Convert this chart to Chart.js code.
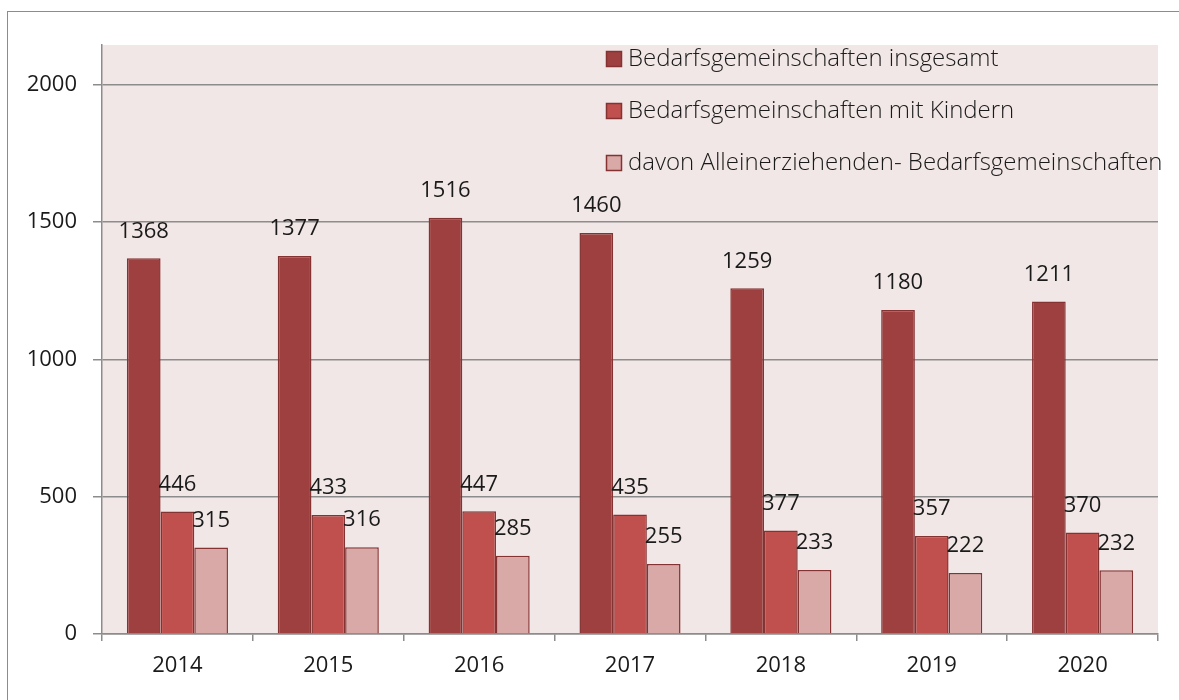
<!DOCTYPE html>
<html>
<head>
<meta charset="utf-8">
<script src="https://cdn.jsdelivr.net/npm/chart.js@4.4.1/dist/chart.umd.min.js"></script>
<style>
  html, body { margin: 0; padding: 0; background: #fff; }
  #wrap { position: relative; width: 1179px; height: 700px; }
  #frame { position: absolute; left: 7px; top: 11px; right: -5px; bottom: -5px; border: 1.5px solid #8c8c8c; }
  canvas { position: absolute; left: 0; top: 0; }
</style>
</head>
<body>
<div id="wrap">
  <div id="frame"></div>
  <canvas id="myChart" width="1179" height="700"></canvas>
</div>
<script>
const jahre = ["2014", "2015", "2016", "2017", "2018", "2019", "2020"];
const insgesamt = [1368, 1377, 1516, 1460, 1259, 1180, 1211];
const mitKindern = [446, 433, 447, 435, 377, 357, 370];
const alleinerziehend = [315, 316, 285, 255, 233, 222, 232];
const yTicks = [0, 500, 1000, 1500, 2000];

const schrift = "'Open Sans', 'Noto Sans', sans-serif";
const grau = "#8c8c8c";
const textFarbe = "#1a1a1a";

// Plot-Hintergrund
const plotBg = {
  id: "plotBg",
  beforeDraw(chart) {
    let a = chart.chartArea;
    let c = chart.ctx;
    c.save();
    c.fillStyle = "#f2e7e7";
    c.fillRect(a.left, a.top, a.right - a.left, a.bottom - a.top);
    c.restore();
  }
};

// Werte über den Balken
const werte = {
  id: "werte",
  afterDatasetsDraw(chart) {
    let c = chart.ctx;
    c.save();
    c.font = "400 22px " + schrift;
    c.fillStyle = textFarbe;
    c.textAlign = "center";
    c.textBaseline = "middle";
    chart.data.datasets.forEach((ds, i) => {
      chart.getDatasetMeta(i).data.forEach((bar, j) => {
        c.fillText(ds.data[j], bar.x, bar.y - 27);
      });
    });
    c.restore();
  }
};

// Legende oben rechts im Plot
const legende = {
  id: "legende",
  afterDraw(chart) {
    let c = chart.ctx;
    c.save();
    c.font = "300 24px " + schrift;
    c.textBaseline = "middle";
    chart.data.datasets.forEach((ds, i) => {
      let y = 59 + i * 52;
      c.fillStyle = ds.backgroundColor;
      c.fillRect(606, y - 8, 16, 16);
      c.strokeStyle = ds.borderColor;
      c.lineWidth = 1.5;
      c.strokeRect(606.5, y - 7.5, 15, 15);
      c.fillStyle = textFarbe;
      c.fillText(ds.label, 628, y);
    });
    c.restore();
  }
};

const ctx = document.getElementById("myChart");
const myChart = new Chart(ctx, {
  type: "bar",
  data: {
    labels: jahre,
    datasets: [
      {
        label: "Bedarfsgemeinschaften insgesamt",
        data: insgesamt,
        backgroundColor: "#9e4040",
        borderColor: "#853232",
        borderWidth: 1.5,
      },
      {
        label: "Bedarfsgemeinschaften mit Kindern",
        data: mitKindern,
        backgroundColor: "#c0504d",
        borderColor: "#853232",
        borderWidth: 1.5,
      },
      {
        label: "davon Alleinerziehenden- Bedarfsgemeinschaften",
        data: alleinerziehend,
        backgroundColor: "#d9a9a8",
        borderColor: "#853232",
        borderWidth: 1.5,
      },
    ],
  },
  options: {
    responsive: false,
    animation: false,
    layout: { padding: { top: 45, right: 21, left: 0, bottom: 0 } },
    plugins: {
      legend: { display: false },
      tooltip: { enabled: false },
    },
    datasets: {
      bar: { categoryPercentage: 0.67, barPercentage: 1.0 },
    },
    scales: {
      x: {
        grid: {
          offset: true,
          drawOnChartArea: false,
          color: grau,
          lineWidth: 1.5,
          tickLength: 7,
        },
        border: { color: grau, width: 1.5 },
        ticks: {
          color: textFarbe,
          font: { family: schrift, size: 22, weight: 400 },
          padding: 12,
        },
        afterFit: (scale) => { scale.height = 66; },
      },
      y: {
        min: 0,
        max: 2145,
        afterBuildTicks: (scale) => {
          scale.ticks = yTicks.map((v) => ({ value: v }));
        },
        grid: {
          color: grau,
          lineWidth: 1.5,
          tickLength: 9,
        },
        border: { color: grau, width: 1.5 },
        ticks: {
          color: textFarbe,
          font: { family: schrift, size: 22, weight: 400 },
          padding: 16,
          callback: (v) => String(v),
        },
        afterFit: (scale) => { scale.width = 102; },
      },
    },
  },
  plugins: [plotBg, werte, legende],
});
</script>
</body>
</html>
